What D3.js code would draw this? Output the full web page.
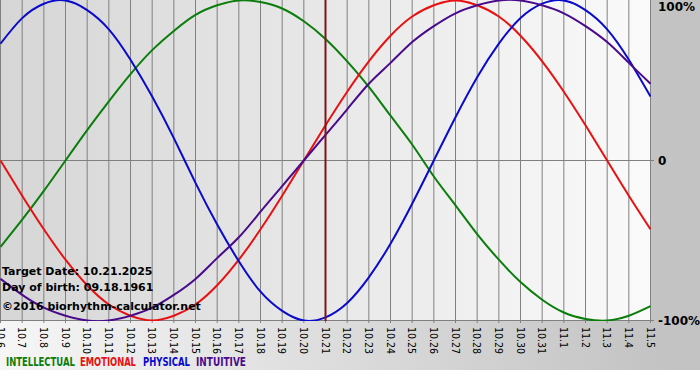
<!DOCTYPE html>
<html lang="en">
<head>
    <meta charset="UTF-8">
    <title>Biorhythm chart</title>
    <script src="https://d3js.org/d3.v7.min.js"></script>
    <style>
        body {
            margin: 0;
            padding: 0;
            background: #ffffff;
        }
        svg {
            display: block;
        }
        .info {
            font-family: "DejaVu Sans", Verdana, sans-serif;
            font-weight: bold;
            font-size: 11px;
            fill: #000;
        }
        .ylab {
            font-family: "DejaVu Sans", Verdana, sans-serif;
            font-weight: bold;
            font-size: 12px;
            fill: #000;
        }
        .xlab {
            font-family: "DejaVu Sans Condensed", sans-serif;
            font-size: 10.5px;
            fill: #000;
        }
        .legend {
            font-family: "DejaVu Sans Condensed", "DejaVu Sans", sans-serif;
            font-weight: bold;
            font-size: 12px;
        }
    </style>
</head>
<body>
<svg id="chart" width="700" height="380"></svg>
<script>
    // dates on the x axis (month.day)
    const dates = ["10.6", "10.7", "10.8", "10.9", "10.10", "10.11", "10.12", "10.13", "10.14", "10.15",
        "10.16", "10.17", "10.18", "10.19", "10.20", "10.21", "10.22", "10.23", "10.24", "10.25",
        "10.26", "10.27", "10.28", "10.29", "10.30", "10.31", "11.1", "11.2", "11.3", "11.4", "11.5"];
    const targetDate = "10.21";

    // values in percent, one per day
    const intellectual = [-54, -37, -19, 0, 19, 37, 54, 69, 81, 91, 97, 100, 99, 95, 87, 76,
        62, 46, 28, 10, -10, -28, -46, -62, -76, -87, -95, -99, -100, -97, -91];
    const emotional = [0, -22, -43, -62, -78, -90, -97, -100, -97, -90, -78, -62, -43, -22, 0, 22,
        43, 62, 78, 90, 97, 100, 97, 90, 78, 62, 43, 22, 0, -22, -43];
    const physical = [73, 89, 98, 100, 94, 82, 63, 40, 14, -14, -40, -63, -82, -94, -100, -98,
        -89, -73, -52, -27, 0, 27, 52, 73, 89, 98, 100, 94, 82, 63, 40];
    const intuitive = [-74, -84, -92, -97, -100, -100, -97, -92, -84, -74, -61, -48, -32, -16, 0, 16,
        32, 48, 61, 74, 84, 92, 97, 100, 100, 97, 92, 84, 74, 61, 48];

    const yTicks = [100, 0, -100];
    const yTickLabels = ["100%", "0", "-100%"];

    const series = [
        { name: "INTELLECTUAL", values: intellectual, color: "#0a7d0a", legendX: 6, legendW: 69 },
        { name: "EMOTIONAL", values: emotional, color: "#e81010", legendX: 80, legendW: 56 },
        { name: "PHYSICAL", values: physical, color: "#0a0acc", legendX: 143, legendW: 47 },
        { name: "INTUITIVE", values: intuitive, color: "#4a0a8c", legendX: 196, legendW: 50 }
    ];

    const svg = d3.select("#chart");
    const plotW = 651, plotH = 321;

    const defs = svg.append("defs");
    const outerGrad = defs.append("linearGradient").attr("id", "outerGrad")
        .attr("x1", "0%").attr("x2", "100%").attr("y1", "0%").attr("y2", "0%");
    outerGrad.append("stop").attr("offset", "0%").attr("stop-color", "#f6f6f6");
    outerGrad.append("stop").attr("offset", "93%").attr("stop-color", "#c4c4c4");
    outerGrad.append("stop").attr("offset", "100%").attr("stop-color", "#c2c2c2");

    const plotGrad = defs.append("linearGradient").attr("id", "plotGrad")
        .attr("x1", "0%").attr("x2", "100%").attr("y1", "0%").attr("y2", "0%");
    plotGrad.append("stop").attr("offset", "0%").attr("stop-color", "#d6d6d6");
    plotGrad.append("stop").attr("offset", "100%").attr("stop-color", "#fafafa");

    defs.append("clipPath").attr("id", "plotClip")
        .append("rect").attr("x", 0).attr("y", 0).attr("width", plotW).attr("height", plotH);

    // background
    svg.append("rect").attr("x", 0).attr("y", 0).attr("width", 700).attr("height", 370)
        .attr("fill", "url(#outerGrad)");
    svg.append("rect").attr("x", 0).attr("y", 0).attr("width", plotW).attr("height", plotH)
        .attr("fill", "url(#plotGrad)");

    const x = d3.scaleLinear().domain([0, dates.length - 1]).range([0.5, 650.5]);
    const y = d3.scaleLinear().domain([-100, 100]).range([320.5, 0.5]);

    // vertical grid lines + ticks
    svg.append("g").selectAll("line").data(dates).join("line")
        .attr("x1", (d, i) => x(i)).attr("x2", (d, i) => x(i))
        .attr("y1", 0).attr("y2", plotH + 2)
        .attr("stroke", "#808080").attr("stroke-width", 1);

    // horizontal lines at 0 and -100
    svg.append("g").selectAll("line").data([0, -100]).join("line")
        .attr("x1", 0).attr("x2", plotW + 3)
        .attr("y1", d => y(d)).attr("y2", d => y(d))
        .attr("stroke", "#808080").attr("stroke-width", 1);

    // date labels, rotated (first one is cut by the left edge, as in the original)
    svg.append("g").selectAll("text").data(dates).join("text")
        .attr("class", "xlab")
        .attr("transform", (d, i) => `translate(${x(i)},327) rotate(90)`)
        .attr("dy", "0.35em")
        .text(d => d);

    // right side percentage labels
    svg.append("g").selectAll("text").data(yTicks).join("text")
        .attr("class", "ylab")
        .attr("x", 658)
        .attr("y", d => Math.max(y(d), 7))
        .attr("dy", "0.36em")
        .text((d, i) => yTickLabels[i]);

    // curves
    const line = d3.line()
        .x((d, i) => x(i))
        .y(d => y(d))
        .curve(d3.curveNatural);

    svg.append("g").attr("clip-path", "url(#plotClip)")
        .selectAll("path").data(series).join("path")
        .attr("d", d => line(d.values))
        .attr("fill", "none")
        .attr("stroke", d => d.color)
        .attr("stroke-width", 2);

    // target date marker
    const ti = dates.indexOf(targetDate);
    svg.append("line")
        .attr("x1", x(ti)).attr("x2", x(ti))
        .attr("y1", 0).attr("y2", plotH)
        .attr("stroke", "#7a1616").attr("stroke-width", 2);

    // info text
    const info = ["Target Date: 10.21.2025", "Day of birth: 09.18.1961", "\u00a92016 biorhythm-calculator.net"];
    const infoY = [275, 291, 310];
    svg.append("g").selectAll("text").data(info).join("text")
        .attr("class", "info")
        .attr("x", 2)
        .attr("y", (d, i) => infoY[i])
        .text(d => d);

    // legend: squeeze each word horizontally to the original's narrow look
    svg.append("g").selectAll("text").data(series).join("text")
        .attr("class", "legend")
        .attr("fill", d => d.color)
        .text(d => d.name)
        .attr("transform", function (d) {
            const w = this.getComputedTextLength();
            return `translate(${d.legendX},366) scale(${d.legendW / w},1)`;
        });
</script>
</body>
</html>
